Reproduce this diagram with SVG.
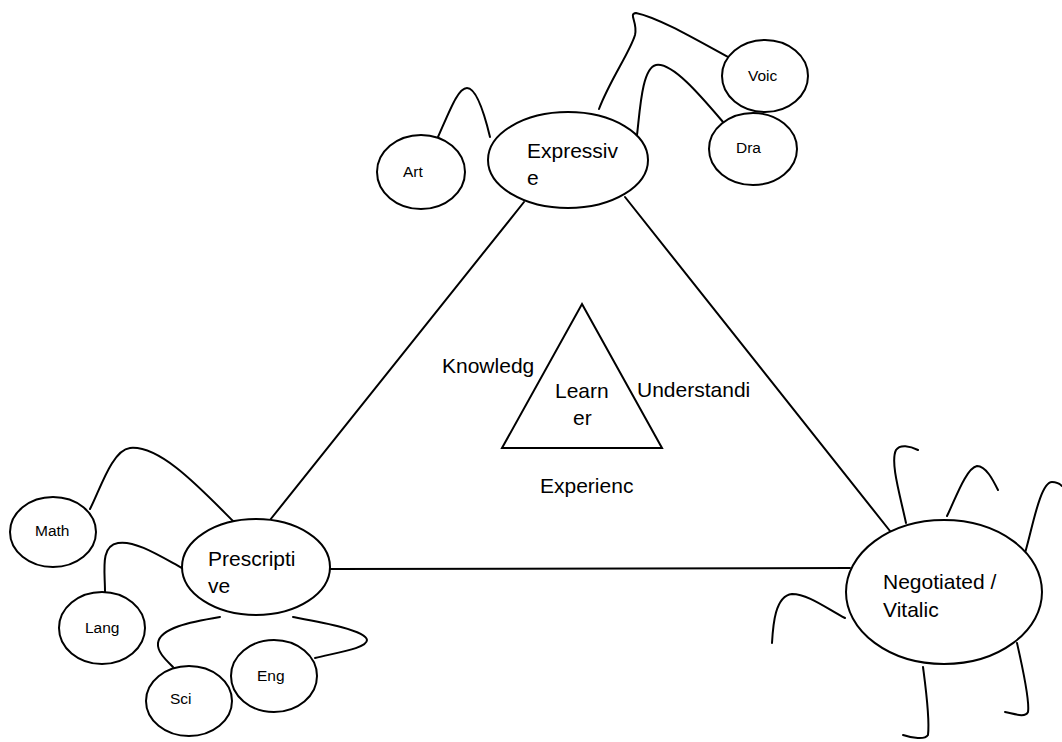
<svg xmlns="http://www.w3.org/2000/svg" width="1062" height="742" viewBox="0 0 1062 742">
  <style>
    .shape { fill: #fff; stroke: #000; stroke-width: 2; }
    .link { fill: none; stroke: #000; stroke-width: 2; stroke-linecap: round; }
    .big { font-family: "Liberation Sans", Arial, sans-serif; font-size: 21px; fill: #000; }
    .small { font-family: "Liberation Sans", Arial, sans-serif; font-size: 15.5px; fill: #000; }
  </style>
  <rect width="1062" height="742" fill="#fff"/>

  <!-- connectors: main triangle and branch curves -->
  <g id="connectors">
    <line class="link" x1="524" y1="202" x2="270" y2="520"/>
    <line class="link" x1="625" y1="197" x2="890" y2="531"/>
    <line class="link" x1="330" y1="569" x2="850" y2="568"/>
    <!-- Expressive branches -->
    <path class="link" d="M438,137 C450,110 458,88 467,88 C476,88 484,112 490,137"/>
    <path class="link" d="M599,109 C610,80 630,52 635,35 C638,22 628,14 636,13 C660,18 700,42 737,62"/>
    <path class="link" d="M637,135 C640,110 642,68 656,65 C672,62 700,95 723,122"/>
    <!-- Prescriptive branches -->
    <path class="link" d="M90,509 C100,490 112,450 130,448 C160,445 200,488 233,521"/>
    <path class="link" d="M105,592 C105,570 100,546 118,543 C135,540 160,556 182,568"/>
    <path class="link" d="M220,617 C190,622 160,628 158,643 C157,652 166,660 173,667"/>
    <path class="link" d="M293,617 C320,622 366,630 367,640 C367,648 340,652 315,658"/>
    <!-- Negotiated branches -->
    <path class="link" d="M906,523 C900,495 890,462 896,450 C900,444 910,446 918,450"/>
    <path class="link" d="M947,516 C955,500 966,468 977,466 C986,466 993,480 998,490"/>
    <path class="link" d="M1025,553 C1032,530 1040,482 1052,482 C1056,482 1060,484 1062,486"/>
    <path class="link" d="M845,618 C826,608 808,594 792,594 C775,596 773,625 772,643"/>
    <path class="link" d="M923,667 C926,690 930,718 928,735 C925,740 912,738 903,735"/>
    <path class="link" d="M1017,643 C1022,665 1030,700 1028,712 C1025,718 1015,714 1005,712"/>
  </g>

  <!-- central Learner triangle and its labels -->
  <g id="learner">
    <polygon class="shape" points="582,304 662,448 502,448"/>
    <text class="big" x="555" y="398">Learn</text>
    <text class="big" x="573" y="425">er</text>
  </g>
  <g id="label-knowledge"><text class="big" x="442" y="373">Knowledg</text></g>
  <g id="label-understanding"><text class="big" x="637" y="397">Understandi</text></g>
  <g id="label-experience"><text class="big" x="540" y="493">Experienc</text></g>

  <g id="expressive">
    <ellipse class="shape" cx="568" cy="160" rx="80" ry="48"/>
    <text class="big" x="527" y="158">Expressiv</text>
    <text class="big" x="527" y="185">e</text>
  </g>
  <g id="art">
    <ellipse class="shape" cx="421" cy="172" rx="44" ry="37"/>
    <text class="small" x="403" y="177">Art</text>
  </g>
  <g id="voic">
    <ellipse class="shape" cx="765" cy="76" rx="43" ry="36"/>
    <text class="small" x="748" y="81">Voic</text>
  </g>
  <g id="dra">
    <ellipse class="shape" cx="753" cy="149" rx="44" ry="36"/>
    <text class="small" x="736" y="153">Dra</text>
  </g>

  <g id="prescriptive">
    <ellipse class="shape" cx="256" cy="567" rx="74" ry="48"/>
    <text class="big" x="208" y="566">Prescripti</text>
    <text class="big" x="208" y="593">ve</text>
  </g>
  <g id="math">
    <ellipse class="shape" cx="53" cy="532" rx="43" ry="35"/>
    <text class="small" x="35" y="536">Math</text>
  </g>
  <g id="lang">
    <ellipse class="shape" cx="102" cy="628" rx="43" ry="36"/>
    <text class="small" x="85" y="633">Lang</text>
  </g>
  <g id="sci">
    <ellipse class="shape" cx="189" cy="701" rx="43" ry="35"/>
    <text class="small" x="170" y="704">Sci</text>
  </g>
  <g id="eng">
    <ellipse class="shape" cx="274" cy="676" rx="43" ry="36"/>
    <text class="small" x="257" y="681">Eng</text>
  </g>

  <g id="negotiated">
    <ellipse class="shape" cx="944" cy="592" rx="98" ry="72"/>
    <text class="big" x="883" y="589">Negotiated /</text>
    <text class="big" x="883" y="617">Vitalic</text>
  </g>
</svg>
